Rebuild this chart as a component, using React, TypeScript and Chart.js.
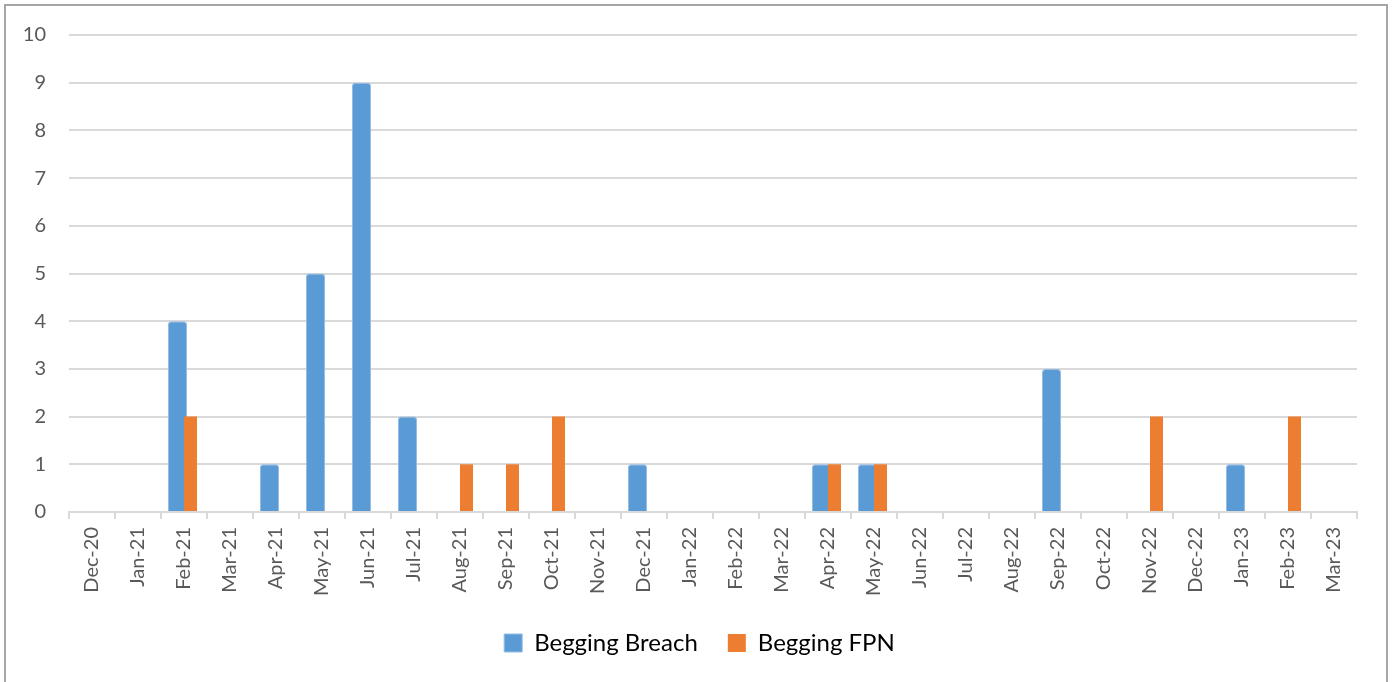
import React, { useEffect, useRef } from "react";
import { Chart, registerables } from "chart.js";

Chart.register(...registerables);

const categories = [
  "Dec-20", "Jan-21", "Feb-21", "Mar-21", "Apr-21", "May-21", "Jun-21", "Jul-21",
  "Aug-21", "Sep-21", "Oct-21", "Nov-21", "Dec-21", "Jan-22", "Feb-22", "Mar-22",
  "Apr-22", "May-22", "Jun-22", "Jul-22", "Aug-22", "Sep-22", "Oct-22", "Nov-22",
  "Dec-22", "Jan-23", "Feb-23", "Mar-23",
];

const beggingBreach = [
  null, null, 4, null, 1, 5, 9, 2,
  null, null, null, null, 1, null, null, null,
  1, 1, null, null, null, 3, null, null,
  null, 1, null, null,
];

const beggingFPN = [
  null, null, 2, null, null, null, null, null,
  1, 1, 2, null, null, null, null, null,
  1, 1, null, null, null, null, null, 2,
  null, null, 2, null,
];

const seriesNames = ["Begging Breach", "Begging FPN"];
const yTicks = { min: 0, max: 10, step: 1 };

const FONT = "Lato, 'Open Sans', 'Noto Sans', sans-serif";

const drawOrderPlugin = {
  id: "drawOrder",
  beforeDatasetsDraw(chart: any) {
    for (let i = 0; i < chart.data.datasets.length; i++) {
      const meta = chart.getDatasetMeta(i);
      if (chart.isDatasetVisible(i)) meta.controller.draw();
    }
    return false;
  },
};

export default function App() {
  const ref = useRef<HTMLCanvasElement | null>(null);

  useEffect(() => {
    if (!ref.current) return;
    const chart = new Chart(ref.current, {
      type: "bar",
      data: {
        labels: categories,
        datasets: [
          {
            label: seriesNames[0],
            data: beggingBreach,
            backgroundColor: "#5b9bd5",
            borderColor: "#94bde6",
            borderWidth: 1,
            borderRadius: { topLeft: 3, topRight: 3, bottomLeft: 0, bottomRight: 0 },
            borderSkipped: "bottom",
            categoryPercentage: 0.5652,
            barPercentage: 1.4615,
            yAxisID: "y",
          },
          {
            label: seriesNames[1],
            data: beggingFPN,
            backgroundColor: "#ed7d31",
            borderWidth: 0,
            categoryPercentage: 0.5652,
            barPercentage: 1.0,
            yAxisID: "y",
          },
        ] as any,
      },
      options: {
        responsive: false,
        animation: false,
        layout: { padding: { left: 4, right: 0, top: 34, bottom: 17 } },
        plugins: {
          tooltip: { enabled: false },
          title: { display: false },
          legend: {
            position: "bottom",
            labels: {
              font: { family: FONT, size: 24 },
              color: "#000000",
              boxWidth: 18,
              boxHeight: 18,
              padding: 30,
            },
          },
        },
        scales: {
          x: {
            z: 1,
            offset: true,
            grid: {
              display: true,
              drawOnChartArea: false,
              drawTicks: true,
              tickLength: 7,
              color: "#d9d9d9",
              lineWidth: 2,
              offset: true,
            },
            border: { display: true, color: "#d9d9d9", width: 2 },
            ticks: {
              autoSkip: false,
              minRotation: 90,
              maxRotation: 90,
              padding: 8,
              color: "#595959",
              font: { family: FONT, size: 20 },
            },
            afterFit(scale: any) {
              scale.height = 89;
            },
          },
          y: {
            min: yTicks.min,
            max: yTicks.max,
            grid: { color: "#d9d9d9", lineWidth: 2, drawTicks: false },
            border: { display: false },
            ticks: {
              stepSize: yTicks.step,
              padding: 23,
              color: "#595959",
              font: { family: FONT, size: 20 },
            },
            afterFit(scale: any) {
              scale.width = 65;
            },
          },
          yRight: {
            position: "right",
            min: yTicks.min,
            max: yTicks.max,
            grid: { display: false, drawTicks: false },
            border: { display: false },
            ticks: { display: false },
            afterFit(scale: any) {
              scale.width = 38;
            },
          },
        },
      } as any,
      plugins: [drawOrderPlugin as any],
    });
    return () => chart.destroy();
  }, []);

  return (
    <div
      style={{
        position: "fixed",
        left: 0,
        top: 0,
        width: 1395,
        height: 682,
        overflow: "hidden",
        background: "#ffffff",
      }}
    >
      <div
        style={{
          position: "absolute",
          left: 4,
          top: 4,
          width: 1384,
          height: 720,
          border: "2px solid #a6a6a6",
          boxSizing: "border-box",
        }}
      />
      <canvas
        ref={ref}
        width={1395}
        height={682}
        style={{ position: "absolute", left: 0, top: 0, width: 1395, height: 682 }}
      />
    </div>
  );
}
